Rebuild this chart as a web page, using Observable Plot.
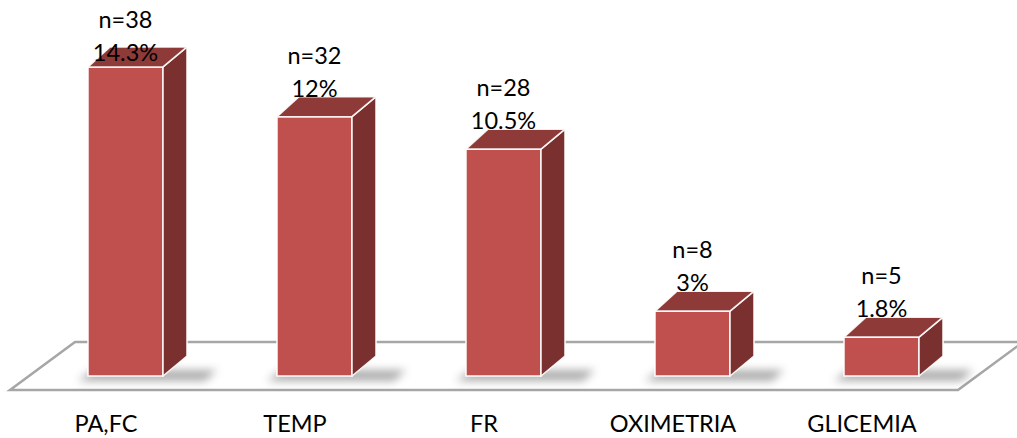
<!DOCTYPE html>
<html><head><meta charset="utf-8">
<script src="https://cdn.jsdelivr.net/npm/d3@7"></script>
<script src="https://cdn.jsdelivr.net/npm/@observablehq/plot@0.6"></script>
<style>html,body{margin:0;padding:0;background:#fff} svg{display:block}</style>
</head><body><div id="chart"></div>
<script>
const categories = ["PA,FC", "TEMP", "FR", "OXIMETRIA", "GLICEMIA"];
const counts = [38, 32, 28, 8, 5];
const percents = [14.3, 12, 10.5, 3, 1.8];
const percentLabels = ["14.3%", "12%", "10.5%", "3%", "1.8%"];

const data = categories.map((c, i) => ({cat: c, n: counts[i], pct: percents[i], pctLabel: percentLabels[i]}));

const W = 1017, H = 438;
const PAD_IN = 0.604;
const DX = 24, DY = -20;
const FS = 23.5;
const FRONT = "#C0504D", TOP = "#8E3A38", SIDE = "#7A302E";
const ns = "http://www.w3.org/2000/svg";
function el(tag, attrs, text) {
  const e = document.createElementNS(ns, tag);
  for (const k in attrs) e.setAttribute(k, attrs[k]);
  if (text != null) e.textContent = text;
  return e;
}
function bw(x) {
  if (typeof x.bandwidth === "function") return x.bandwidth();
  if (typeof x.bandwidth === "number") return x.bandwidth;
  return (x(categories[1]) - x(categories[0])) * (1 - PAD_IN);
}

function floorMark(index, scales, values, dims) {
  const g = el("g", {});
  const y0 = scales.y(0);
  const xl = dims.marginLeft - 39, xr = dims.width - dims.marginRight;
  const yf = y0 + 14, yb = y0 - 34, off = 65;
  g.appendChild(el("polygon", {
    points: `${xl},${yf} ${xl + off},${yb} ${xr + off},${yb} ${xr},${yf}`,
    fill: "#fff", stroke: "#A6A6A6", "stroke-width": 2.5, "stroke-linejoin": "miter"
  }));
  return g;
}

function shadowMark(index, scales, values, dims) {
  const g = el("g", {});
  const defs = el("defs", {});
  const f = el("filter", {id: "blurShadow", x: "-50%", y: "-200%", width: "200%", height: "500%"});
  f.appendChild(el("feGaussianBlur", {stdDeviation: 4}));
  defs.appendChild(f);
  g.appendChild(defs);
  const w = bw(scales.x);
  for (const d of data) {
    const x0 = scales.x(d.cat), x1 = x0 + w, yb = scales.y(0);
    g.appendChild(el("polygon", {
      points: `${x0 - 10},${yb + 5} ${x1 + DX + 18},${yb + 5} ${x1 + DX + 30},${yb - 6} ${x0 + 5},${yb - 6}`,
      fill: "#6b6b6b", opacity: 0.55, filter: "url(#blurShadow)"
    }));
  }
  return g;
}

function facesMark(index, scales, values, dims) {
  const g = el("g", {stroke: "#fff", "stroke-width": 1.6, "stroke-opacity": 0.9, "stroke-linejoin": "round"});
  const w = bw(scales.x);
  for (const d of data) {
    const x0 = scales.x(d.cat), x1 = x0 + w;
    const yt = scales.y(d.pct), yb = scales.y(0);
    g.appendChild(el("polygon", {
      points: `${x1},${yb} ${x1},${yt} ${x1 + DX},${yt + DY} ${x1 + DX},${yb + DY}`,
      fill: SIDE
    }));
    g.appendChild(el("polygon", {
      points: `${x0},${yt} ${x1},${yt} ${x1 + DX},${yt + DY} ${x0 + DX - 2},${yt + DY}`,
      fill: TOP
    }));
  }
  return g;
}

function labelMark(index, scales, values, dims) {
  const g = el("g", {"text-anchor": "middle", "font-size": FS, fill: "#000", "font-family": "Lato, sans-serif"});
  const w = bw(scales.x);
  for (const d of data) {
    const cx = scales.x(d.cat) + w / 2;
    const yt = scales.y(d.pct);
    const nb = Math.max(yt - 53, 28);
    g.appendChild(el("text", {x: cx, y: nb}, "n=" + d.n));
    g.appendChild(el("text", {x: cx, y: nb + 33}, d.pctLabel));
  }
  return g;
}

const chart = Plot.plot({
  width: W, height: H,
  marginLeft: 49, marginRight: 59, marginTop: 0, marginBottom: 62,
  style: {fontFamily: "Lato, sans-serif", fontSize: FS + "px", color: "#000", background: "#fff", overflow: "visible"},
  x: {domain: categories, paddingInner: PAD_IN, paddingOuter: 0.2, label: null, tickSize: 0, tickPadding: 40},
  y: {domain: [0, 17.4], axis: null},
  marks: [
    floorMark,
    shadowMark,
    Plot.barY(data, {x: "cat", y: "pct", fill: FRONT, stroke: "#fff", strokeWidth: 1.6, strokeOpacity: 0.9}),
    facesMark,
    labelMark,
    Plot.axisX({tickSize: 0, tickPadding: 39, dx: -20, fontSize: FS, label: null})
  ]
});
document.getElementById("chart").appendChild(chart);
</script>
</body></html>
